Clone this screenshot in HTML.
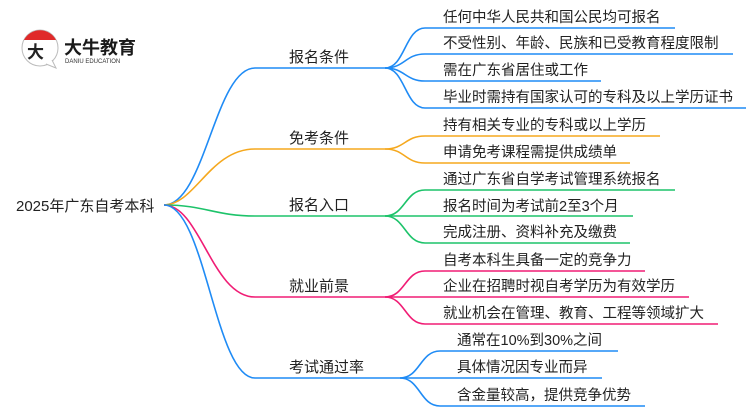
<!DOCTYPE html>
<html><head><meta charset="utf-8"><style>
html,body{margin:0;padding:0;background:#fff;}
svg text{font-family:"Liberation Sans","Noto Sans CJK SC",sans-serif;fill:#222;}
</style></head><body>
<svg width="750" height="410" viewBox="0 0 750 410" xmlns="http://www.w3.org/2000/svg">
<g fill="none" stroke-width="1.6">
<!-- level1 -->
<path d="M164 205 C205 205,215 68,255 68 L385 68" stroke="#1f8bf5"/>
<path d="M164 205 C195 205,210 149,255 149 L385 149" stroke="#f5a81e"/>
<path d="M164 205 C205 205,215 216,255 216 L385 216" stroke="#1dc36a"/>
<path d="M164 205 C200 205,212 297,255 297 L385 297" stroke="#f01d75"/>
<path d="M164 205 C205 205,215 378,255 378 L400 378" stroke="#1f8bf5"/>
<!-- group1 -->
<g stroke="#1f8bf5">
<path d="M385 68 C405 68,405 28,425 28 L675 28"/>
<path d="M385 68 C405 68,405 54,425 54 L733 54"/>
<path d="M385 68 C405 68,405 81,425 81 L601 81"/>
<path d="M385 68 C405 68,405 108,425 108 L746 108"/>
</g>
<g stroke="#f5a81e">
<path d="M385 149 C405 149,405 136,425 136 L660 136"/>
<path d="M385 149 C405 149,405 163,425 163 L630 163"/>
</g>
<g stroke="#1dc36a">
<path d="M385 216 C405 216,405 190,425 190 L675 190"/>
<path d="M385 216 L633 216"/>
<path d="M385 216 C405 216,405 243,425 243 L630 243"/>
</g>
<g stroke="#f01d75">
<path d="M385 297 C405 297,405 271,425 271 L645 271"/>
<path d="M385 297 L689 297"/>
<path d="M385 297 C405 297,405 324,425 324 L718 324"/>
</g>
<g stroke="#1f8bf5">
<path d="M400 378 C420 378,420 351,440 351 L618 351"/>
<path d="M400 378 L602 378"/>
<path d="M400 378 C420 378,420 406,440 406 L645 406"/>
</g>
</g>
<!-- logo -->
<circle cx="40" cy="48" r="18" fill="#fff" stroke="#bbb" stroke-width="1"/>
<path d="M24 40 A18 18 0 0 1 56 40 Z" fill="#e02a2a"/>
<path d="M46 64 L56 68 L52 60" fill="#fff" stroke="#bbb" stroke-width="1"/>
<text x="27" y="58" font-size="17" font-weight="bold">大</text>
<text x="64" y="54" font-size="18" font-weight="bold" style="fill:#1a1a1a">大牛教育</text>
<text x="65" y="63" font-size="6" style="fill:#333">DANIU EDUCATION</text>
<!-- labels -->
<text x="16" y="211" font-size="15">2025年广东自考本科</text>
<g font-size="15">
<text x="289" y="62">报名条件</text>
<text x="289" y="143">免考条件</text>
<text x="289" y="210">报名入口</text>
<text x="289" y="291">就业前景</text>
<text x="289" y="372">考试通过率</text>
</g>
<g font-size="14.5">
<text x="443" y="22">任何中华人民共和国公民均可报名</text>
<text x="443" y="48">不受性别、年龄、民族和已受教育程度限制</text>
<text x="443" y="75">需在广东省居住或工作</text>
<text x="443" y="102">毕业时需持有国家认可的专科及以上学历证书</text>
<text x="443" y="130">持有相关专业的专科或以上学历</text>
<text x="443" y="157">申请免考课程需提供成绩单</text>
<text x="443" y="184">通过广东省自学考试管理系统报名</text>
<text x="443" y="211">报名时间为考试前2至3个月</text>
<text x="443" y="237">完成注册、资料补充及缴费</text>
<text x="443" y="265">自考本科生具备一定的竞争力</text>
<text x="443" y="291">企业在招聘时视自考学历为有效学历</text>
<text x="443" y="318">就业机会在管理、教育、工程等领域扩大</text>
<text x="457" y="345">通常在10%到30%之间</text>
<text x="457" y="372">具体情况因专业而异</text>
<text x="457" y="400">含金量较高，提供竞争优势</text>
</g>
</svg>
</body></html>
